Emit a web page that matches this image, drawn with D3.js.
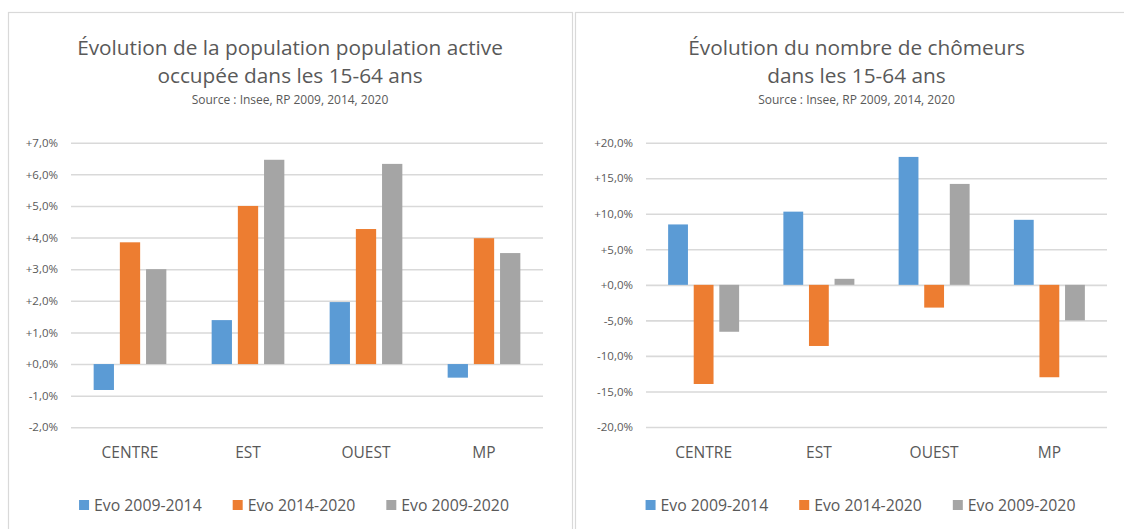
<!DOCTYPE html>
<html lang="fr">
<head>
<meta charset="utf-8">
<script src="https://cdn.jsdelivr.net/npm/d3@7"></script>
<style>
  html, body { margin: 0; padding: 0; background: #ffffff; }
  svg { display: block; font-family: "Open Sans", sans-serif; }
</style>
</head>
<body>
<svg id="chart" width="1124" height="529"></svg>
<script>
// Données (en %)
const categories = ["CENTRE", "EST", "OUEST", "MP"];
const seriesNames = ["Evo 2009-2014", "Evo 2014-2020", "Evo 2009-2020"];
const seriesColors = ["#5b9bd5", "#ed7d31", "#a5a5a5"];

const actifs0914 = [-0.82, 1.39, 1.96, -0.43];
const actifs1420 = [3.85, 5.0, 4.27, 3.98];
const actifs0920 = [3.0, 6.46, 6.33, 3.51];
const actifsTicks = [-2, -1, 0, 1, 2, 3, 4, 5, 6, 7];

const chomeurs0914 = [8.5, 10.3, 18.0, 9.15];
const chomeurs1420 = [-13.95, -8.6, -3.2, -13.0];
const chomeurs0920 = [-6.6, 0.85, 14.2, -5.0];
const chomeursTicks = [-20, -15, -10, -5, 0, 5, 10, 15, 20];

const textColor = "#595959";
const gridColor = "#d9d9d9";

const svg = d3.select("#chart");

// Format "+7,0%"
const fmt = v => (v >= 0 ? "+" : "") + v.toFixed(1).replace(".", ",") + "%";

const drawPanel = (opt) => {
  const g = svg.append("g");

  // cadre du graphique
  g.append("rect")
    .attr("x", opt.panel[0] + 0.5)
    .attr("y", 12.5)
    .attr("width", opt.panel[1] - opt.panel[0])
    .attr("height", 540)
    .attr("fill", "#fff")
    .attr("stroke", gridColor)
    .attr("stroke-width", 1.2);

  const cx = (opt.panel[0] + opt.panel[1]) / 2;

  // titres
  const title = g.append("text")
    .attr("text-anchor", "middle")
    .attr("fill", textColor)
    .style("font-size", "20.8px");
  opt.title.forEach((line, i) => {
    title.append("tspan").attr("x", cx).attr("y", 55 + i * 28).text(line);
  });
  g.append("text")
    .attr("x", cx).attr("y", 104)
    .attr("text-anchor", "middle")
    .attr("fill", textColor)
    .style("font-size", "12px")
    .text("Source : Insee, RP 2009, 2014, 2020");

  const x = d3.scaleBand().domain(categories).range(opt.xRange);
  const y = d3.scaleLinear()
    .domain(d3.extent(opt.ticks))
    .range(opt.yRange);

  // grille + axe Y
  const yAxis = d3.axisLeft(y)
    .tickValues(opt.ticks)
    .tickFormat(fmt)
    .tickSize(-(opt.xRange[1] - opt.xRange[0]))
    .tickPadding(13);
  const ya = g.append("g")
    .attr("transform", `translate(${opt.xRange[0]},0)`)
    .call(yAxis);
  ya.select(".domain").remove();
  ya.selectAll(".tick line").attr("stroke", gridColor).attr("stroke-width", 1.6);
  ya.selectAll(".tick text")
    .attr("fill", textColor)
    .style("font-size", "11.5px")
    .style("font-family", "'Open Sans', sans-serif");

  // barres
  const bw = x.bandwidth() * 0.172;
  const gap = x.bandwidth() * 0.05;
  const groupW = 3 * bw + 2 * gap;
  opt.series.forEach((vals, s) => {
    g.append("g").selectAll("rect")
      .data(vals)
      .join("rect")
      .attr("x", (d, i) => x(categories[i]) + (x.bandwidth() - groupW) / 2 + s * (bw + gap))
      .attr("y", d => y(Math.max(0, d)))
      .attr("width", bw)
      .attr("height", d => Math.abs(y(d) - y(0)))
      .attr("fill", seriesColors[s]);
  });

  // étiquettes des catégories
  g.append("g").selectAll("text")
    .data(categories)
    .join("text")
    .attr("x", d => x(d) + x.bandwidth() / 2)
    .attr("y", 458)
    .attr("text-anchor", "middle")
    .attr("fill", textColor)
    .style("font-size", "15.5px")
    .text(d => d);

  // légende
  const leg = g.append("g");
  const itemGap = 31;
  let lx = 0;
  seriesNames.forEach((name, s) => {
    const item = leg.append("g").attr("transform", `translate(${lx},0)`);
    item.append("rect")
      .attr("x", 0).attr("y", -11)
      .attr("width", 10).attr("height", 10)
      .attr("fill", seriesColors[s]);
    const t = item.append("text")
      .attr("x", 15).attr("y", 0)
      .attr("fill", textColor)
      .style("font-size", "15.8px")
      .text(name);
    lx += 15 + t.node().getComputedTextLength() + itemGap;
  });
  const legW = lx - itemGap;
  leg.attr("transform", `translate(${cx + 4 - legW / 2},511)`);
};

drawPanel({
  panel: [8, 572],
  title: ["Évolution de la population population active", "occupée dans les 15-64 ans"],
  xRange: [71, 543],
  yRange: [427.3, 142.7],
  ticks: actifsTicks,
  series: [actifs0914, actifs1420, actifs0920]
});

drawPanel({
  panel: [575, 1138],
  title: ["Évolution du nombre de chômeurs", "dans les 15-64 ans"],
  xRange: [646, 1107],
  yRange: [427, 142.7],
  ticks: chomeursTicks,
  series: [chomeurs0914, chomeurs1420, chomeurs0920]
});
</script>
</body>
</html>
